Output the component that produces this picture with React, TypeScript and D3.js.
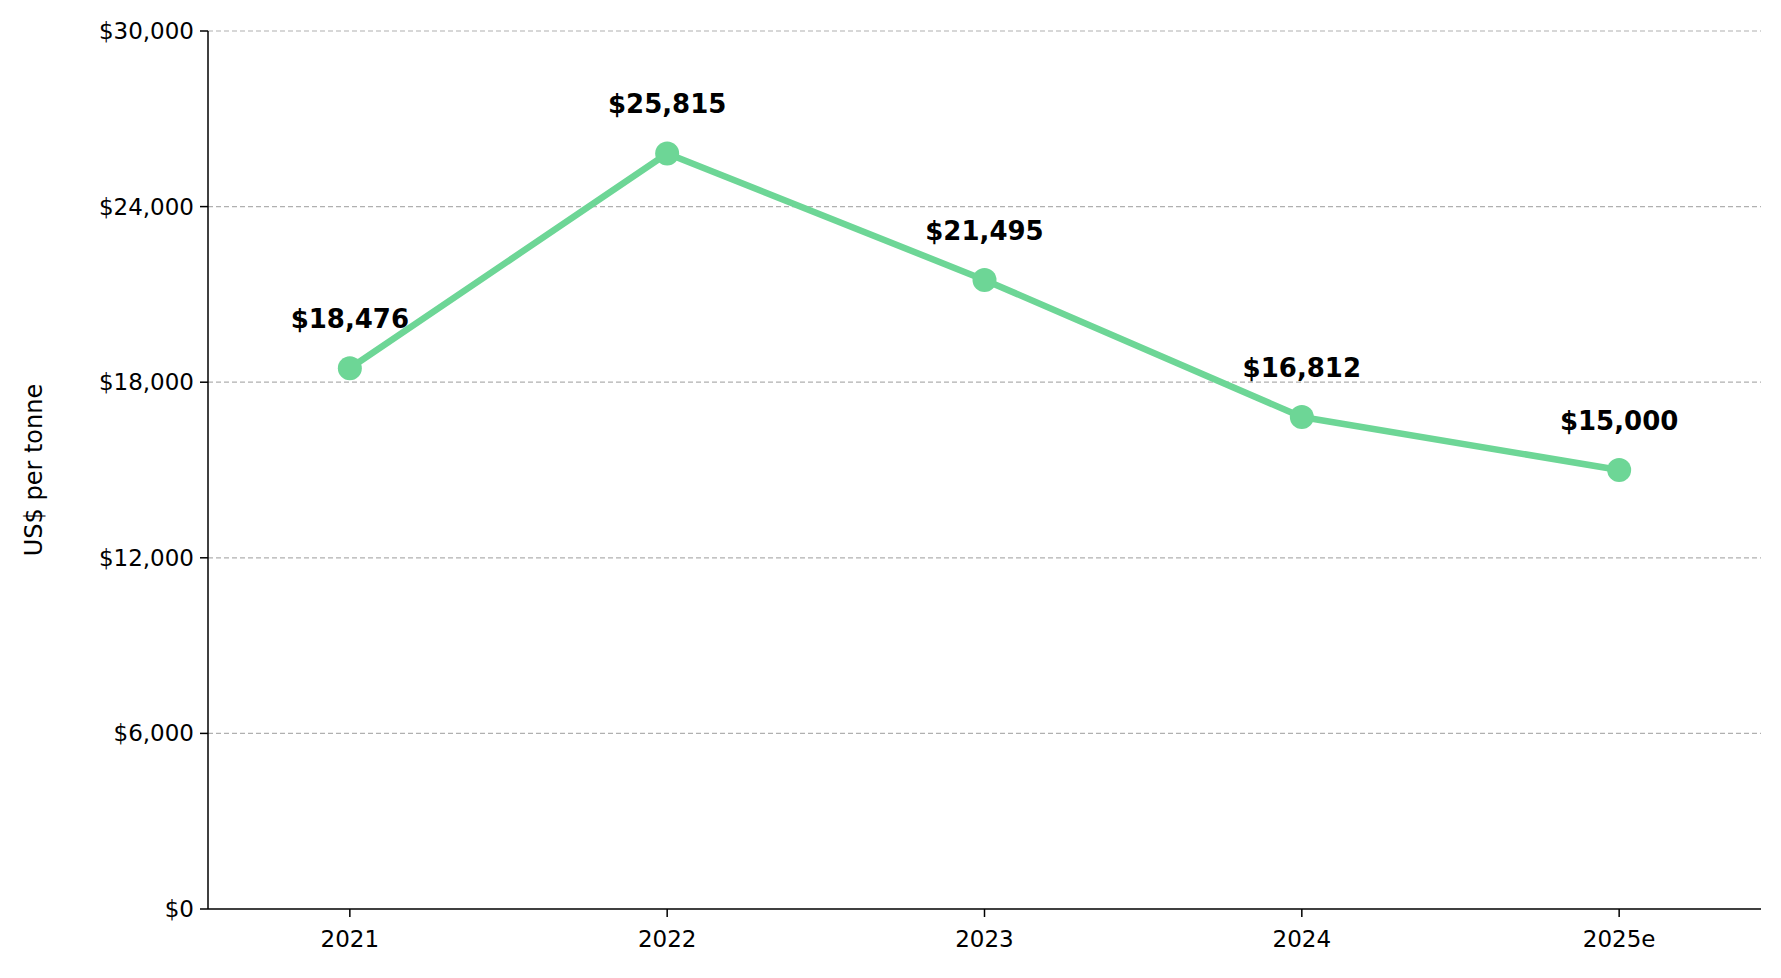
import * as d3 from 'd3';
import React from 'react';

const years = ['2021', '2022', '2023', '2024', '2025e'];
const prices = [18476, 25815, 21495, 16812, 15000];
const yTicks = [0, 6000, 12000, 18000, 24000, 30000];

const W = 1781;
const H = 978;
const left = 208;
const right = 1761;
const top = 31;
const bottom = 909;

export default function App() {
    const x = d3.scalePoint<string>().domain(years).range([left, right]).padding(0.447);
    const y = d3.scaleLinear().domain([0, 30000]).range([bottom, top]);
    const fmt = (v: number) => '$' + d3.format(',')(v);
    const line = d3.line<number>().x((_, i) => x(years[i])!).y((d) => y(d));
    const font = 'DejaVu Sans, sans-serif';

    return (
        <svg width={W} height={H} style={{ position: 'absolute', left: 0, top: 0, fontFamily: font }}>
            {yTicks.slice(1).map((t) => (
                <line key={t} x1={left} x2={right} y1={y(t)} y2={y(t)} stroke="#b0b0b0" strokeWidth={1.2} strokeDasharray="5,3" />
            ))}
            <line x1={left} x2={left} y1={top} y2={bottom} stroke="#000" strokeWidth={1.5} />
            <line x1={left} x2={right} y1={bottom} y2={bottom} stroke="#000" strokeWidth={1.5} />
            {yTicks.map((t) => (
                <g key={t}>
                    <line x1={left - 8} x2={left} y1={y(t)} y2={y(t)} stroke="#000" strokeWidth={1.5} />
                    <text x={left - 14} y={y(t)} dy="0.35em" textAnchor="end" fontSize={23}>{fmt(t)}</text>
                </g>
            ))}
            {years.map((yr) => (
                <g key={yr}>
                    <line x1={x(yr)} x2={x(yr)} y1={bottom} y2={bottom + 8} stroke="#000" strokeWidth={1.5} />
                    <text x={x(yr)} y={bottom + 38} textAnchor="middle" fontSize={23}>{yr}</text>
                </g>
            ))}
            <text transform={`translate(42,${(top + bottom) / 2}) rotate(-90)`} textAnchor="middle" fontSize={24}>US$ per tonne</text>
            <path d={line(prices) ?? ''} fill="none" stroke="#6dd696" strokeWidth={6.5} strokeLinejoin="round" />
            {prices.map((p, i) => (
                <g key={i}>
                    <circle cx={x(years[i])} cy={y(p)} r={12} fill="#6dd696" />
                    <text x={x(years[i])} y={y(p) - 40} textAnchor="middle" fontSize={26} fontWeight="bold">{fmt(p)}</text>
                </g>
            ))}
        </svg>
    );
}
